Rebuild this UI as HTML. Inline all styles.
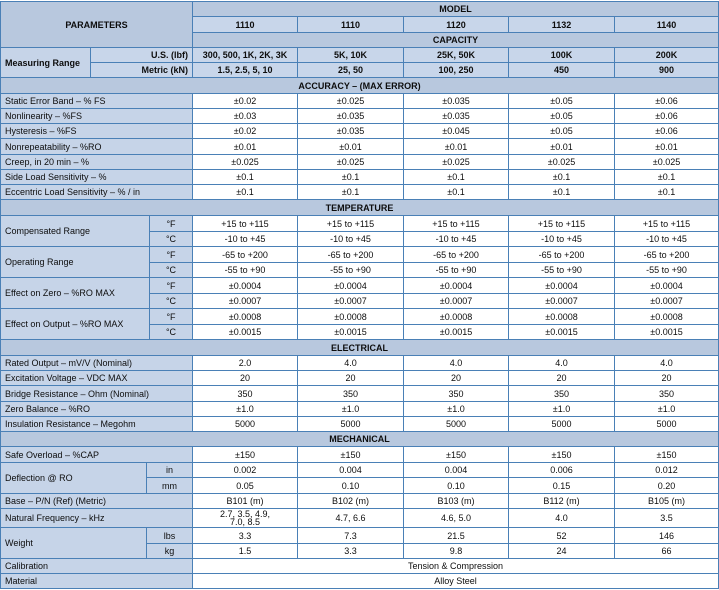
<!DOCTYPE html>
<html><head><meta charset="utf-8">
<style>
html,body{margin:0;padding:0;background:#fff;}
body{width:719px;height:590px;overflow:hidden;position:relative;}
.g{position:absolute;left:0;top:1px;display:grid;background:#4a80b6;padding:1px;gap:1px;
grid-template-columns:89px 55px 2px 42px 104px 105px 104px 105px 103px;
grid-template-rows:14px 15px 14px 14px 14px 15px 14px 14px 14px 15px 14px 14px 14px 15px 15px 14px 15px 14px 15px 14px 15px 14px 15px 14px 14px 15px 14px 14px 14px 15px 14px 15px 14px 18px 15px 14px 14px 14px;
font-family:"Liberation Sans",sans-serif;font-size:9px;color:#0d0d0d;}
.g>div{display:flex;align-items:center;justify-content:center;overflow:hidden;white-space:nowrap;line-height:10px;}
.h{background:#b8c8de;font-weight:bold;grid-column:1/10;}
.hd{background:#b8c8de;font-weight:bold;grid-column:5/10;}
.m{background:#c8d6ea;font-weight:bold;}
.l{background:#c6d4e8;justify-content:flex-start !important;padding-left:4px;grid-column:1/5;}
.u{background:#c6d4e8;}
.d{background:#fff;}
.w{background:#fff;grid-column:5/10;}
</style></head><body>
<div class="g">
<div style="grid-area:1/1/4/5;background:#b8c8de;font-weight:bold;">PARAMETERS</div>
<div class="hd" style="grid-row:1">MODEL</div>
<div class="m" style="grid-row:2">1110</div><div class="m" style="grid-row:2">1110</div><div class="m" style="grid-row:2">1120</div><div class="m" style="grid-row:2">1132</div><div class="m" style="grid-row:2">1140</div>
<div class="hd" style="grid-row:3">CAPACITY</div>
<div style="grid-area:4/1/6/2;background:#c6d4e8;font-weight:bold;justify-content:flex-start;padding-left:4px;">Measuring Range</div>
<div class="m" style="grid-row:4;grid-column:2/5;justify-content:flex-end;padding-right:4px;">U.S. (lbf)</div>
<div class="m" style="grid-row:4">300, 500, 1K, 2K, 3K</div><div class="m" style="grid-row:4">5K, 10K</div><div class="m" style="grid-row:4">25K, 50K</div><div class="m" style="grid-row:4">100K</div><div class="m" style="grid-row:4">200K</div>
<div class="m" style="grid-row:5;grid-column:2/5;justify-content:flex-end;padding-right:4px;">Metric (kN)</div>
<div class="m" style="grid-row:5">1.5, 2.5, 5, 10</div><div class="m" style="grid-row:5">25, 50</div><div class="m" style="grid-row:5">100, 250</div><div class="m" style="grid-row:5">450</div><div class="m" style="grid-row:5">900</div>
<div class="h" style="grid-row:6">ACCURACY – (MAX ERROR)</div>

<div class="l" style="grid-row:7">Static Error Band – % FS</div>
<div class="d" style="grid-row:7">±0.02</div><div class="d" style="grid-row:7">±0.025</div><div class="d" style="grid-row:7">±0.035</div><div class="d" style="grid-row:7">±0.05</div><div class="d" style="grid-row:7">±0.06</div>
<div class="l" style="grid-row:8">Nonlinearity – %FS</div>
<div class="d" style="grid-row:8">±0.03</div><div class="d" style="grid-row:8">±0.035</div><div class="d" style="grid-row:8">±0.035</div><div class="d" style="grid-row:8">±0.05</div><div class="d" style="grid-row:8">±0.06</div>
<div class="l" style="grid-row:9">Hysteresis – %FS</div>
<div class="d" style="grid-row:9">±0.02</div><div class="d" style="grid-row:9">±0.035</div><div class="d" style="grid-row:9">±0.045</div><div class="d" style="grid-row:9">±0.05</div><div class="d" style="grid-row:9">±0.06</div>
<div class="l" style="grid-row:10">Nonrepeatability – %RO</div>
<div class="d" style="grid-row:10">±0.01</div><div class="d" style="grid-row:10">±0.01</div><div class="d" style="grid-row:10">±0.01</div><div class="d" style="grid-row:10">±0.01</div><div class="d" style="grid-row:10">±0.01</div>
<div class="l" style="grid-row:11">Creep, in 20 min – %</div>
<div class="d" style="grid-row:11">±0.025</div><div class="d" style="grid-row:11">±0.025</div><div class="d" style="grid-row:11">±0.025</div><div class="d" style="grid-row:11">±0.025</div><div class="d" style="grid-row:11">±0.025</div>
<div class="l" style="grid-row:12">Side Load Sensitivity – %</div>
<div class="d" style="grid-row:12">±0.1</div><div class="d" style="grid-row:12">±0.1</div><div class="d" style="grid-row:12">±0.1</div><div class="d" style="grid-row:12">±0.1</div><div class="d" style="grid-row:12">±0.1</div>
<div class="l" style="grid-row:13">Eccentric Load Sensitivity – % / in</div>
<div class="d" style="grid-row:13">±0.1</div><div class="d" style="grid-row:13">±0.1</div><div class="d" style="grid-row:13">±0.1</div><div class="d" style="grid-row:13">±0.1</div><div class="d" style="grid-row:13">±0.1</div>

<div class="h" style="grid-row:14">TEMPERATURE</div>
<div class="l" style="grid-area:15/1/17/4">Compensated Range</div>
<div class="u" style="grid-row:15">°F</div>
<div class="d" style="grid-row:15">+15 to +115</div><div class="d" style="grid-row:15">+15 to +115</div><div class="d" style="grid-row:15">+15 to +115</div><div class="d" style="grid-row:15">+15 to +115</div><div class="d" style="grid-row:15">+15 to +115</div>
<div class="u" style="grid-row:16">°C</div>
<div class="d" style="grid-row:16">-10 to +45</div><div class="d" style="grid-row:16">-10 to +45</div><div class="d" style="grid-row:16">-10 to +45</div><div class="d" style="grid-row:16">-10 to +45</div><div class="d" style="grid-row:16">-10 to +45</div>
<div class="l" style="grid-area:17/1/19/4">Operating Range</div>
<div class="u" style="grid-row:17">°F</div>
<div class="d" style="grid-row:17">-65 to +200</div><div class="d" style="grid-row:17">-65 to +200</div><div class="d" style="grid-row:17">-65 to +200</div><div class="d" style="grid-row:17">-65 to +200</div><div class="d" style="grid-row:17">-65 to +200</div>
<div class="u" style="grid-row:18">°C</div>
<div class="d" style="grid-row:18">-55 to +90</div><div class="d" style="grid-row:18">-55 to +90</div><div class="d" style="grid-row:18">-55 to +90</div><div class="d" style="grid-row:18">-55 to +90</div><div class="d" style="grid-row:18">-55 to +90</div>
<div class="l" style="grid-area:19/1/21/4">Effect on Zero – %RO MAX</div>
<div class="u" style="grid-row:19">°F</div>
<div class="d" style="grid-row:19">±0.0004</div><div class="d" style="grid-row:19">±0.0004</div><div class="d" style="grid-row:19">±0.0004</div><div class="d" style="grid-row:19">±0.0004</div><div class="d" style="grid-row:19">±0.0004</div>
<div class="u" style="grid-row:20">°C</div>
<div class="d" style="grid-row:20">±0.0007</div><div class="d" style="grid-row:20">±0.0007</div><div class="d" style="grid-row:20">±0.0007</div><div class="d" style="grid-row:20">±0.0007</div><div class="d" style="grid-row:20">±0.0007</div>
<div class="l" style="grid-area:21/1/23/4">Effect on Output – %RO MAX</div>
<div class="u" style="grid-row:21">°F</div>
<div class="d" style="grid-row:21">±0.0008</div><div class="d" style="grid-row:21">±0.0008</div><div class="d" style="grid-row:21">±0.0008</div><div class="d" style="grid-row:21">±0.0008</div><div class="d" style="grid-row:21">±0.0008</div>
<div class="u" style="grid-row:22">°C</div>
<div class="d" style="grid-row:22">±0.0015</div><div class="d" style="grid-row:22">±0.0015</div><div class="d" style="grid-row:22">±0.0015</div><div class="d" style="grid-row:22">±0.0015</div><div class="d" style="grid-row:22">±0.0015</div>

<div class="h" style="grid-row:23">ELECTRICAL</div>
<div class="l" style="grid-row:24">Rated Output – mV/V (Nominal)</div>
<div class="d" style="grid-row:24">2.0</div><div class="d" style="grid-row:24">4.0</div><div class="d" style="grid-row:24">4.0</div><div class="d" style="grid-row:24">4.0</div><div class="d" style="grid-row:24">4.0</div>
<div class="l" style="grid-row:25">Excitation Voltage – VDC MAX</div>
<div class="d" style="grid-row:25">20</div><div class="d" style="grid-row:25">20</div><div class="d" style="grid-row:25">20</div><div class="d" style="grid-row:25">20</div><div class="d" style="grid-row:25">20</div>
<div class="l" style="grid-row:26">Bridge Resistance – Ohm (Nominal)</div>
<div class="d" style="grid-row:26">350</div><div class="d" style="grid-row:26">350</div><div class="d" style="grid-row:26">350</div><div class="d" style="grid-row:26">350</div><div class="d" style="grid-row:26">350</div>
<div class="l" style="grid-row:27">Zero Balance – %RO</div>
<div class="d" style="grid-row:27">±1.0</div><div class="d" style="grid-row:27">±1.0</div><div class="d" style="grid-row:27">±1.0</div><div class="d" style="grid-row:27">±1.0</div><div class="d" style="grid-row:27">±1.0</div>
<div class="l" style="grid-row:28">Insulation Resistance – Megohm</div>
<div class="d" style="grid-row:28">5000</div><div class="d" style="grid-row:28">5000</div><div class="d" style="grid-row:28">5000</div><div class="d" style="grid-row:28">5000</div><div class="d" style="grid-row:28">5000</div>

<div class="h" style="grid-row:29">MECHANICAL</div>
<div class="l" style="grid-row:30">Safe Overload – %CAP</div>
<div class="d" style="grid-row:30">±150</div><div class="d" style="grid-row:30">±150</div><div class="d" style="grid-row:30">±150</div><div class="d" style="grid-row:30">±150</div><div class="d" style="grid-row:30">±150</div>
<div class="l" style="grid-area:31/1/33/3">Deflection @ RO</div>
<div class="u" style="grid-row:31;grid-column:3/5">in</div>
<div class="d" style="grid-row:31">0.002</div><div class="d" style="grid-row:31">0.004</div><div class="d" style="grid-row:31">0.004</div><div class="d" style="grid-row:31">0.006</div><div class="d" style="grid-row:31">0.012</div>
<div class="u" style="grid-row:32;grid-column:3/5">mm</div>
<div class="d" style="grid-row:32">0.05</div><div class="d" style="grid-row:32">0.10</div><div class="d" style="grid-row:32">0.10</div><div class="d" style="grid-row:32">0.15</div><div class="d" style="grid-row:32">0.20</div>
<div class="l" style="grid-row:33">Base – P/N (Ref) (Metric)</div>
<div class="d" style="grid-row:33">B101 (m)</div><div class="d" style="grid-row:33">B102 (m)</div><div class="d" style="grid-row:33">B103 (m)</div><div class="d" style="grid-row:33">B112 (m)</div><div class="d" style="grid-row:33">B105 (m)</div>
<div class="l" style="grid-row:34">Natural Frequency – kHz</div>
<div class="d" style="grid-row:34;flex-direction:column;line-height:8px;justify-content:flex-start;padding-top:1px;"><span>2.7, 3.5, 4.9,</span><span>7.0, 8.5</span></div>
<div class="d" style="grid-row:34">4.7, 6.6</div><div class="d" style="grid-row:34">4.6, 5.0</div><div class="d" style="grid-row:34">4.0</div><div class="d" style="grid-row:34">3.5</div>
<div class="l" style="grid-area:35/1/37/3">Weight</div>
<div class="u" style="grid-row:35;grid-column:3/5">lbs</div>
<div class="d" style="grid-row:35">3.3</div><div class="d" style="grid-row:35">7.3</div><div class="d" style="grid-row:35">21.5</div><div class="d" style="grid-row:35">52</div><div class="d" style="grid-row:35">146</div>
<div class="u" style="grid-row:36;grid-column:3/5">kg</div>
<div class="d" style="grid-row:36">1.5</div><div class="d" style="grid-row:36">3.3</div><div class="d" style="grid-row:36">9.8</div><div class="d" style="grid-row:36">24</div><div class="d" style="grid-row:36">66</div>
<div class="l" style="grid-row:37">Calibration</div>
<div class="w" style="grid-row:37">Tension &amp; Compression</div>
<div class="l" style="grid-row:38">Material</div>
<div class="w" style="grid-row:38">Alloy Steel</div>
</div>
</body></html>
